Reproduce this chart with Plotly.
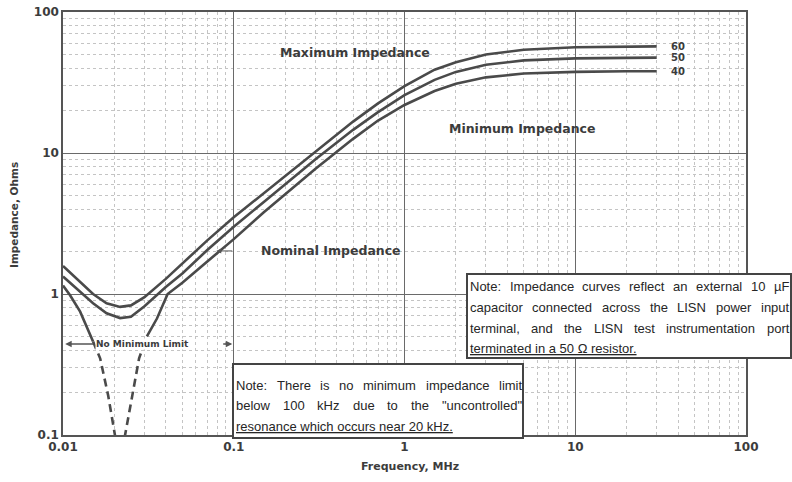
import plotly.graph_objects as go
import math

# ---------------- data ----------------
freq_curve = [0.01, 0.0126, 0.015, 0.018, 0.0216, 0.025, 0.03, 0.04, 0.05, 0.07, 0.1,
              0.15, 0.2, 0.3, 0.5, 0.7, 1, 1.5, 2, 3, 5, 10, 20, 30]
z_max = [1.58, 1.22, 1.0, 0.86, 0.81, 0.83, 0.95, 1.28, 1.65, 2.4, 3.5,
         5.2, 6.9, 10.3, 16.7, 22.5, 29.8, 39, 44, 50, 54, 56.3, 56.8, 57]
z_nom = [1.33, 1.04, 0.86, 0.73, 0.675, 0.69, 0.82, 1.12, 1.4, 2.05, 3.0,
         4.5, 6.0, 9.0, 14.6, 19.5, 25.7, 33, 37.6, 42.2, 45.4, 46.9, 47.3, 47.5]

freq_min_left = [0.01, 0.011, 0.0126, 0.014, 0.015]
z_min_left = [1.15, 0.98, 0.75, 0.56, 0.46]
freq_min_res = [0.015, 0.0165, 0.0184, 0.0202, 0.0212, 0.0218, 0.0231, 0.0254, 0.0279, 0.031]
z_min_res = [0.46, 0.35, 0.19, 0.098, 0.04, 0.04, 0.1, 0.19, 0.35, 0.5]
freq_min_right = [0.031, 0.0355, 0.041, 0.05, 0.07, 0.1, 0.15, 0.2, 0.3, 0.5, 0.7, 1,
                  1.5, 2, 3, 5, 10, 20, 30]
z_min_right = [0.5, 0.67, 1.0, 1.2, 1.7, 2.45, 3.8, 5.1, 7.7, 12.6, 17, 21.9,
               27.5, 31, 34.4, 36.6, 37.6, 38, 38]

end_labels = ["60", "50", "40"]
x_ticks = [0.01, 0.1, 1, 10, 100]
x_ticktext = ["0.01", "0.1", "1", "10", "100"]
y_ticks = [0.1, 1, 10, 100]
y_ticktext = ["0.1", "1", "10", "100"]

note1 = ["Note:  Impedance curves reflect an external 10 \u00b5F",
         "capacitor connected across the LISN power input",
         "terminal, and the LISN test instrumentation port",
         "terminated in a 50 \u03a9 resistor."]
note2 = ["Note:  There is no minimum impedance limit",
         "below 100 kHz due to the \"uncontrolled\"",
         "resonance which occurs near 20 kHz."]

# ---------------- styles ----------------
LINE = "#4a4a4a"
TXT = "#3c3c3c"
NOTE = "Liberation Sans, Arial, sans-serif"
BOLD = "DejaVu Sans, Verdana, sans-serif"

W, H = 792, 482
PL, PR, PT, PB = 63, 746, 12, 435          # plot area in pixels
L, R, T, B = PL, W - PR, PT, H - PB
pw, ph = PR - PL, PB - PT


def px(xpix):
    return (xpix - PL) / pw


def py(ypix):
    return (PB - ypix) / ph


fig = go.Figure()
lw = 2.6
fig.add_trace(go.Scatter(x=freq_curve, y=z_max, mode="lines", line=dict(color=LINE, width=lw)))
fig.add_trace(go.Scatter(x=freq_curve, y=z_nom, mode="lines", line=dict(color=LINE, width=lw)))
fig.add_trace(go.Scatter(x=freq_min_left, y=z_min_left, mode="lines", line=dict(color=LINE, width=lw)))
fig.add_trace(go.Scatter(x=freq_min_res, y=z_min_res, mode="lines",
                         line=dict(color=LINE, width=lw, dash="8px,5px")))
fig.add_trace(go.Scatter(x=freq_min_right, y=z_min_right, mode="lines", line=dict(color=LINE, width=lw)))

mult = [2, 3, 4, 5, 6, 7, 8, 9]
x_minor = [d * m for d in [0.01, 0.1, 1, 10] for m in mult]
y_minor = [d * m for d in [0.1, 1, 10] for m in mult]

axis_common = dict(
    type="log", showline=True, mirror=True, linecolor="#555", linewidth=1.5,
    showgrid=True, gridcolor="#6a6a6a", gridwidth=1.2, ticks="", zeroline=False,
    tickfont=dict(family=BOLD, size=12, color=TXT),
)
fig.update_xaxes(**axis_common, range=[-2, 2], tickvals=x_ticks,
                 ticktext=["<b>%s</b>" % t for t in x_ticktext],
                 minor=dict(tickvals=x_minor, showgrid=True, gridcolor="#c4c4c4",
                            griddash="dot", gridwidth=1, ticks=""))
fig.update_yaxes(**axis_common, range=[-1, 2], tickvals=y_ticks,
                 ticktext=["<b>%s</b>" % t for t in y_ticktext],
                 minor=dict(tickvals=y_minor, showgrid=True, gridcolor="#c4c4c4",
                            griddash="dot", gridwidth=1, ticks=""))

ann = []
lab = dict(family=BOLD, size=12.5, color=TXT)
ann.append(dict(x=math.log10(0.514), y=math.log10(52), text="<b>Maximum Impedance</b>",
                showarrow=False, font=lab))
ann.append(dict(x=math.log10(4.89), y=math.log10(15.0), text="<b>Minimum Impedance</b>",
                showarrow=False, font=lab))
ann.append(dict(x=math.log10(0.141), y=math.log10(2.02), text="<b>Nominal Impedance</b>",
                showarrow=False, font=lab, xanchor="left"))
# nominal arrow
ann.append(dict(x=math.log10(0.079), y=math.log10(2.02), ax=math.log10(0.1), ay=math.log10(2.02),
                axref="x", ayref="y", text="", showarrow=True, arrowhead=2, arrowsize=1,
                arrowwidth=1, arrowcolor="#555"))
# end labels
for lbl, zv in zip(end_labels, [z_max[-1], z_nom[-1], z_min_right[-1]]):
    ann.append(dict(x=math.log10(40), y=math.log10(zv), text="<b>%s</b>" % lbl, showarrow=False,
                    font=dict(family=BOLD, size=10, color=TXT), borderpad=0))
# No minimum limit
ann.append(dict(x=math.log10(0.0294), y=math.log10(0.442), text="<b>No Minimum Limit</b>",
                showarrow=False, font=dict(family=BOLD, size=9, color=TXT), bgcolor="white",
                borderpad=0))
ann.append(dict(x=math.log10(0.0103), y=math.log10(0.442), ax=math.log10(0.0153), ay=math.log10(0.442),
                axref="x", ayref="y", text="", showarrow=True, arrowhead=2, arrowsize=1,
                arrowwidth=1.3, arrowcolor="#555"))
ann.append(dict(x=math.log10(0.098), y=math.log10(0.442), ax=math.log10(0.085), ay=math.log10(0.442),
                axref="x", ayref="y", text="", showarrow=True, arrowhead=2, arrowsize=1,
                arrowwidth=1.3, arrowcolor="#555"))

# axis titles
ann.append(dict(xref="paper", yref="paper", x=px(410), y=py(466), text="<b>Frequency, MHz</b>",
                xanchor="center", yanchor="middle",
                showarrow=False, font=dict(family=BOLD, size=11, color=TXT)))
ann.append(dict(xref="paper", yref="paper", x=px(14), y=py(215), text="<b>Impedance, Ohms</b>",
                xanchor="center", yanchor="middle",
                textangle=-90, showarrow=False, font=dict(family=BOLD, size=10.5, color=TXT)))

# ---- justified note text (Arial metrics, 1/1000 em) ----
AW = {' ': 278, 'a': 556, 'b': 556, 'c': 500, 'd': 556, 'e': 556, 'f': 278, 'g': 556, 'h': 556,
      'i': 222, 'j': 222, 'k': 500, 'l': 222, 'm': 833, 'n': 556, 'o': 556, 'p': 556, 'q': 556,
      'r': 333, 's': 500, 't': 278, 'u': 556, 'v': 500, 'w': 722, 'x': 500, 'y': 500, 'z': 500,
      'N': 722, 'I': 278, 'F': 611, 'L': 556, 'S': 667, 'T': 611, 'H': 722, '\u03a9': 768,
      '\u00b5': 576, ':': 278, ',': 278, '.': 278, '"': 355}


def textw(s, size):
    return sum(AW.get(c, 556) for c in s) * size / 1000.0


NSIZE = 13
nfont = dict(family=NOTE, size=NSIZE, color="#262626")


def add_note(lines, x_left, x_right, ys):
    for i, (line, yy) in enumerate(zip(lines, ys)):
        if i == len(lines) - 1:
            ann.append(dict(xref="paper", yref="paper", x=px(x_left), y=py(yy),
                            text="<u>%s</u>" % line, xanchor="left", yanchor="middle",
                            showarrow=False, font=nfont, borderpad=0))
            continue
        words = line.split()
        total = sum(textw(w, NSIZE) for w in words)
        gap = (x_right - x_left - total) / (len(words) - 1)
        xx = x_left
        for w in words:
            ann.append(dict(xref="paper", yref="paper", x=px(xx), y=py(yy), text=w,
                            xanchor="left", yanchor="middle", showarrow=False,
                            font=nfont, borderpad=0))
            xx += textw(w, NSIZE) + gap


add_note(note1, 469, 788, [286, 307, 328, 348])
add_note(note2, 235, 521, [385, 405, 426])

shapes = [
    dict(type="rect", xref="paper", yref="paper", x0=px(467), x1=px(791), y0=py(358), y1=py(274),
         line=dict(color="#444", width=2), fillcolor="white", layer="above"),
    dict(type="rect", xref="paper", yref="paper", x0=px(233), x1=px(523), y0=py(438), y1=py(364),
         line=dict(color="#444", width=2), fillcolor="white", layer="above"),
    dict(type="line", x0=math.log10(0.059), x1=math.log10(0.088), y0=math.log10(0.442),
         y1=math.log10(0.442), line=dict(color="#555", width=1.3, dash="dash")),
    dict(type="line", x0=math.log10(0.09), x1=math.log10(0.138), y0=math.log10(2.02),
         y1=math.log10(2.02), line=dict(color="#555", width=1, dash="dot")),
]

fig.update_layout(
    width=W, height=H, margin=dict(l=L, r=R, t=T, b=B, autoexpand=False),
    paper_bgcolor="white", plot_bgcolor="white", showlegend=False,
    annotations=ann, shapes=shapes,
)
fig.write_html("out.html", config={"displayModeBar": False},
               post_script="document.body.style.margin='0';document.body.style.overflow='hidden';")
